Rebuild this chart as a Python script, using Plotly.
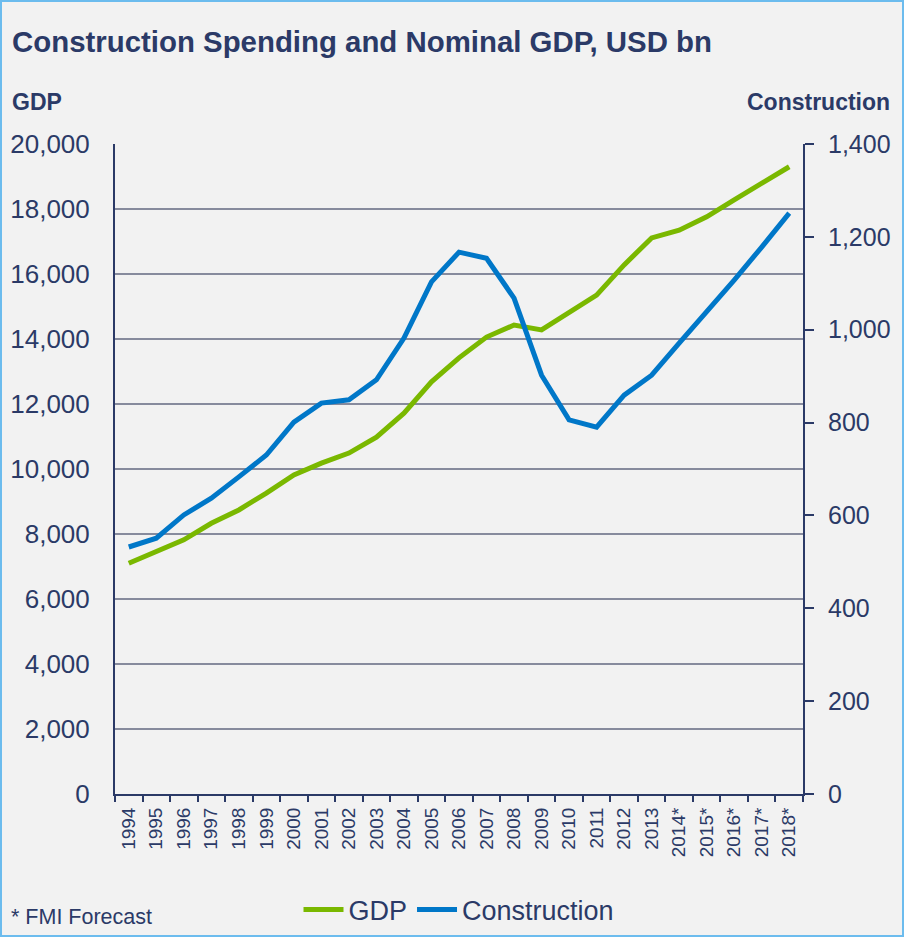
import plotly.graph_objects as go

years = ["1994", "1995", "1996", "1997", "1998", "1999", "2000", "2001", "2002", "2003",
         "2004", "2005", "2006", "2007", "2008", "2009", "2010", "2011", "2012", "2013",
         "2014*", "2015*", "2016*", "2017*", "2018*"]
gdp = [7100, 7450, 7820, 8330, 8740, 9260, 9820, 10180, 10490, 10980,
       11720, 12680, 13420, 14060, 14430, 14280, 14830, 15350, 16280, 17110,
       17350, 17760, 18280, 18800, 19300]
construction = [532, 551, 601, 637, 683, 730, 801, 842, 849, 892,
                982, 1103, 1167, 1154, 1068, 902, 806, 790, 859, 902,
                971, 1038, 1107, 1178, 1251]

gdp_ticks = [0, 2000, 4000, 6000, 8000, 10000, 12000, 14000, 16000, 18000, 20000]
con_ticks = [0, 200, 400, 600, 800, 1000, 1200, 1400]

NAVY = "#2b3a67"
GREEN = "#7ab800"
BLUE = "#0077c8"
FONT = "Liberation Sans, Arial, sans-serif"

W, H = 904, 937
ML, MR, MT, MB = 115, 101, 144, 143
PW, PH = W - ML - MR, H - MT - MB

fig = go.Figure()
fig.add_trace(go.Scatter(x=years, y=gdp, name="GDP", mode="lines",
                         line=dict(color=GREEN, width=5), yaxis="y"))
fig.add_trace(go.Scatter(x=years, y=construction, name="Construction", mode="lines",
                         line=dict(color=BLUE, width=5), yaxis="y2"))

def px_x(p):
    return (p - ML) / PW

def px_y(p):
    return (H - MB - p) / PH

fig.update_layout(
    width=W, height=H,
    margin=dict(l=ML, r=MR, t=MT, b=MB, autoexpand=False),
    paper_bgcolor="#f2f2f2", plot_bgcolor="#f2f2f2",
    font=dict(family=FONT, color=NAVY),
    showlegend=True,
    legend=dict(orientation="h", x=0.5, xanchor="center", y=px_y(910), yanchor="middle",
                font=dict(size=27, color=NAVY), bgcolor="rgba(0,0,0,0)",
                itemwidth=40, tracegroupgap=0),
    xaxis=dict(type="category", range=[-0.5, 24.5], showgrid=False, automargin=False,
               showline=True, linecolor=NAVY, linewidth=2,
               ticks="outside", tickson="boundaries", ticklen=6, tickcolor=NAVY, tickwidth=2,
               tickangle=-90, tickfont=dict(size=19, color=NAVY), ticklabelstandoff=4),
    yaxis=dict(range=[0, 20000], tickvals=gdp_ticks, ticktext=[f"{v:,}" for v in gdp_ticks],
               showgrid=True, gridcolor="#878b9d", gridwidth=2, automargin=False,
               showline=True, linecolor=NAVY, linewidth=2, ticks="",
               tickfont=dict(size=26, color=NAVY), ticklabelstandoff=18, zeroline=False),
    yaxis2=dict(range=[0, 1400], tickvals=con_ticks, ticktext=[f"{v:,}" for v in con_ticks],
                overlaying="y", side="right", showgrid=False, automargin=False,
                showline=True, linecolor=NAVY, linewidth=2,
                ticks="outside", ticklen=9, tickwidth=2, tickcolor=NAVY,
                tickfont=dict(size=25, color=NAVY), ticklabelstandoff=9, zeroline=False),
    annotations=[
        dict(text="<b>Construction Spending and Nominal GDP, USD bn</b>", xref="paper", yref="paper",
             x=px_x(10), y=px_y(42), xanchor="left", yanchor="middle", showarrow=False,
             font=dict(size=29.4, color=NAVY)),
        dict(text="<b>GDP</b>", xref="paper", yref="paper",
             x=px_x(10), y=px_y(102), xanchor="left", yanchor="middle", showarrow=False,
             font=dict(size=23, color=NAVY)),
        dict(text="<b>Construction</b>", xref="paper", yref="paper",
             x=px_x(892), y=px_y(102), xanchor="right", yanchor="middle", showarrow=False,
             font=dict(size=23, color=NAVY)),
        dict(text="* FMI Forecast", xref="paper", yref="paper",
             x=px_x(9), y=px_y(917), xanchor="left", yanchor="middle", showarrow=False,
             font=dict(size=21.5, color=NAVY)),
    ],
    shapes=[
        dict(type="rect", xref="paper", yref="paper",
             x0=px_x(1), x1=px_x(W - 1), y0=px_y(H - 1), y1=px_y(1),
             line=dict(color="#6cbcee", width=2), fillcolor="rgba(0,0,0,0)", layer="below"),
    ],
)

fig.write_html("out.html", config={"displayModeBar": False},
               post_script="document.body.style.margin='0';document.body.style.overflow='hidden';")
